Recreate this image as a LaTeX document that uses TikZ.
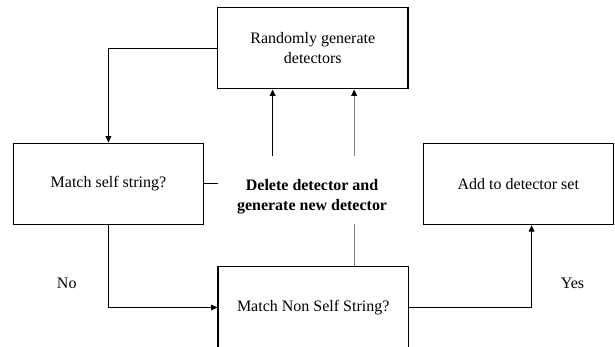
\documentclass[tikz,border=0pt]{standalone}
\usepackage{fontspec}
\setmainfont{Liberation Serif}
\usetikzlibrary{arrows.meta}

\begin{document}
\begin{tikzpicture}[every node/.style={font=\fontsize{12}{15.5}\selectfont}, >={Triangle[length=1.7mm,width=1.5mm]}, line width=0.8pt,
	box/.style={draw, minimum width=5.02cm, minimum height=2.15cm, align=center}]
	\useasboundingbox (0,0) rectangle (16.22,9.15);
	\clip (0,0) rectangle (16.22,9.15);
	\node[box] (gen) at (8.25,7.88) {Randomly generate\\detectors};
	\node[box] (self) at (2.86,4.30) {Match self string?};
	\node[box] (add) at (13.67,4.30) {Add to detector set};
	\node[box] (nonself) at (8.26,1.04) {Match Non Self String?};
	\node[align=center, font=\bfseries\fontsize{12}{15}\selectfont] (del) at (8.23,3.96) {Delete detector and\\generate new detector};
	\coordinate (up1) at (7.19,5.04);
	\coordinate (up2) at (9.34,5.04);
	\coordinate (dn) at (9.34,3.23);
	\coordinate (stub) at (5.76,4.30);
	\draw[->] (gen.west) -| (self.north);
	\draw[->] (self.south) |- (nonself.west);
	\draw[->] (nonself.east) -| ([xshift=0.35cm]add.south);
	\draw[->] (up1) -- (up1 |- gen.south);
	\draw[-{Triangle[length=1.7mm,width=1.5mm,black]}, gray] (up2) -- (up2 |- gen.south);
	\draw[gray] (dn) -- (dn |- nonself.north);
	\draw (self.east) -- (stub);
	\node (no) at (1.76,1.69) {No};
	\node (yes) at (15.10,1.69) {Yes};
\end{tikzpicture}
\end{document}
